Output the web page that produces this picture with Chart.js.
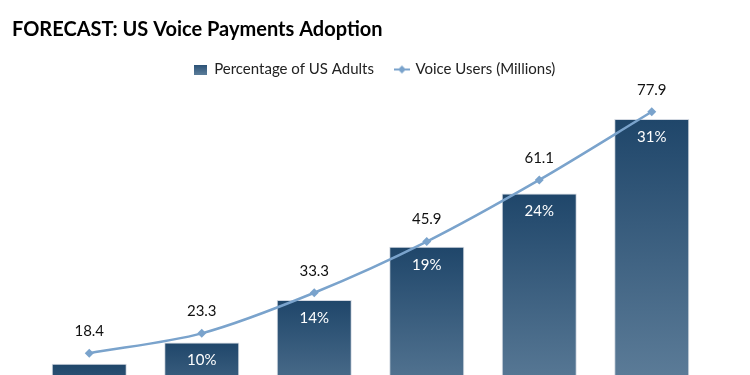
<!DOCTYPE html>
<html>
<head>
<meta charset="utf-8">
<script src="https://cdn.jsdelivr.net/npm/chart.js@4.4.1/dist/chart.umd.min.js"></script>
<style>
  html, body { margin: 0; padding: 0; background: #fff; overflow: hidden; }
  #wrap { position: relative; width: 750px; height: 470px; }
</style>
</head>
<body>
<div id="wrap"><canvas id="chart_voicePayments"></canvas></div>
<script>
// data
var years = ['2017', '2018', '2019', '2020', '2021', '2022'];
var pctAdults = [8, 10, 14, 19, 24, 31];
var voiceUsers = [18.4, 23.3, 33.3, 45.9, 61.1, 77.9];

var FONT = 'Lato, Carlito, Calibri, sans-serif';

// little legend symbol: line with a diamond on it
var lineIcon = document.createElement('canvas');
lineIcon.width = 16; lineIcon.height = 10;
(function () {
    var c = lineIcon.getContext('2d');
    c.strokeStyle = '#7aa3cc';
    c.lineWidth = 2;
    c.beginPath(); c.moveTo(0, 5); c.lineTo(16, 5); c.stroke();
    c.fillStyle = '#7aa3cc';
    c.beginPath(); c.moveTo(8, 1); c.lineTo(12, 5); c.lineTo(8, 9); c.lineTo(4, 5); c.closePath(); c.fill();
})();

var barBox = document.createElement('canvas');
barBox.width = 13; barBox.height = 10;
(function () {
    var c = barBox.getContext('2d');
    var g = c.createLinearGradient(0, 0, 0, 10);
    g.addColorStop(0, '#2a5075');
    g.addColorStop(1, '#5a7c99');
    c.fillStyle = g;
    c.fillRect(0, 0, 13, 10);
})();

function barGradient(context) {
    var chart = context.chart;
    if (!chart.chartArea || context.type !== 'data') return '#3a6082';
    var y = chart.scales.y;
    var top = y.getPixelForValue(context.raw);
    var base = y.getPixelForValue(0);
    var g = chart.ctx.createLinearGradient(0, top, 0, base);
    g.addColorStop(0, '#1f466a');
    g.addColorStop(1, '#6c8aa4');
    return g;
}

var valueLabels = {
    id: 'valueLabels',
    afterDatasetsDraw: function (chart) {
        var ctx = chart.ctx;
        ctx.save();
        ctx.font = '15px ' + FONT;
        ctx.textAlign = 'center';
        ctx.textBaseline = 'middle';
        chart.getDatasetMeta(0).data.forEach(function (el, i) {
            ctx.fillStyle = '#ffffff';
            ctx.fillText(pctAdults[i] + '%', el.x, el.y + 18);
        });
        chart.getDatasetMeta(1).data.forEach(function (el, i) {
            ctx.fillStyle = '#111111';
            ctx.fillText(voiceUsers[i].toFixed(1), el.x, el.y - 22);
        });
        ctx.restore();
    }
};

var chart_voicePayments = new Chart(document.getElementById('chart_voicePayments'), {
    type: 'bar',
    data: {
        labels: years,
        datasets: [
            {
                label: 'Percentage of US Adults',
                data: pctAdults,
                yAxisID: 'y',
                order: 1,
                backgroundColor: barGradient,
                borderColor: 'rgba(205,212,222,0.9)',
                borderWidth: 1,
                categoryPercentage: 1,
                barPercentage: 0.667
            },
            {
                type: 'line',
                label: 'Voice Users (Millions)',
                data: voiceUsers,
                yAxisID: 'y2',
                order: 0,
                borderColor: '#7aa3cc',
                backgroundColor: '#7aa3cc',
                borderWidth: 2.5,
                tension: 0.3,
                pointStyle: 'rectRot',
                pointRadius: 4.5,
                pointBorderWidth: 0
            }
        ]
    },
    options: {
        animation: false,
        responsive: true,
        maintainAspectRatio: false,
        layout: { padding: { left: 12, right: 12, top: 0, bottom: 21 } },
        plugins: {
            tooltip: { enabled: false },
            title: {
                display: true,
                text: 'FORECAST: US Voice Payments Adoption',
                align: 'start',
                color: '#000000',
                font: { family: FONT, size: 20, weight: 'bold', lineHeight: 1.0 },
                padding: { top: 20, bottom: 0 }
            },
            legend: {
                display: true,
                labels: {
                    usePointStyle: true,
                    color: '#222222',
                    font: { family: FONT, size: 15 },
                    padding: 22,
                    boxWidth: 12,
                    boxHeight: 10,
                    sort: function (a, b) { return a.datasetIndex - b.datasetIndex; },
                    generateLabels: function (chart) {
                        var items = Chart.defaults.plugins.legend.labels.generateLabels(chart);
                        items.forEach(function (it) {
                            it.pointStyle = it.datasetIndex === 0 ? barBox : lineIcon;
                            it.lineWidth = 0;
                        });
                        return items;
                    }
                }
            }
        },
        scales: {
            x: {
                display: false,
                offset: true
            },
            y: {
                position: 'left',
                min: 0,
                max: 34,
                grid: { display: false },
                border: { display: false },
                ticks: { display: false },
                afterFit: function (s) { s.width = 21; }
            },
            y2: {
                position: 'right',
                min: -5.2,
                max: 84,
                grid: { display: false },
                border: { display: false },
                ticks: { display: false },
                afterFit: function (s) { s.width = 30; }
            }
        }
    },
    plugins: [valueLabels, {
        id: 'whiteBg',
        beforeDraw: function (chart) {
            var ctx = chart.canvas.getContext('2d');
            ctx.save();
            ctx.globalCompositeOperation = 'destination-over';
            ctx.fillStyle = 'white';
            ctx.fillRect(0, 0, chart.canvas.width, chart.canvas.height);
            ctx.restore();
        }
    }]
});
</script>
</body>
</html>
